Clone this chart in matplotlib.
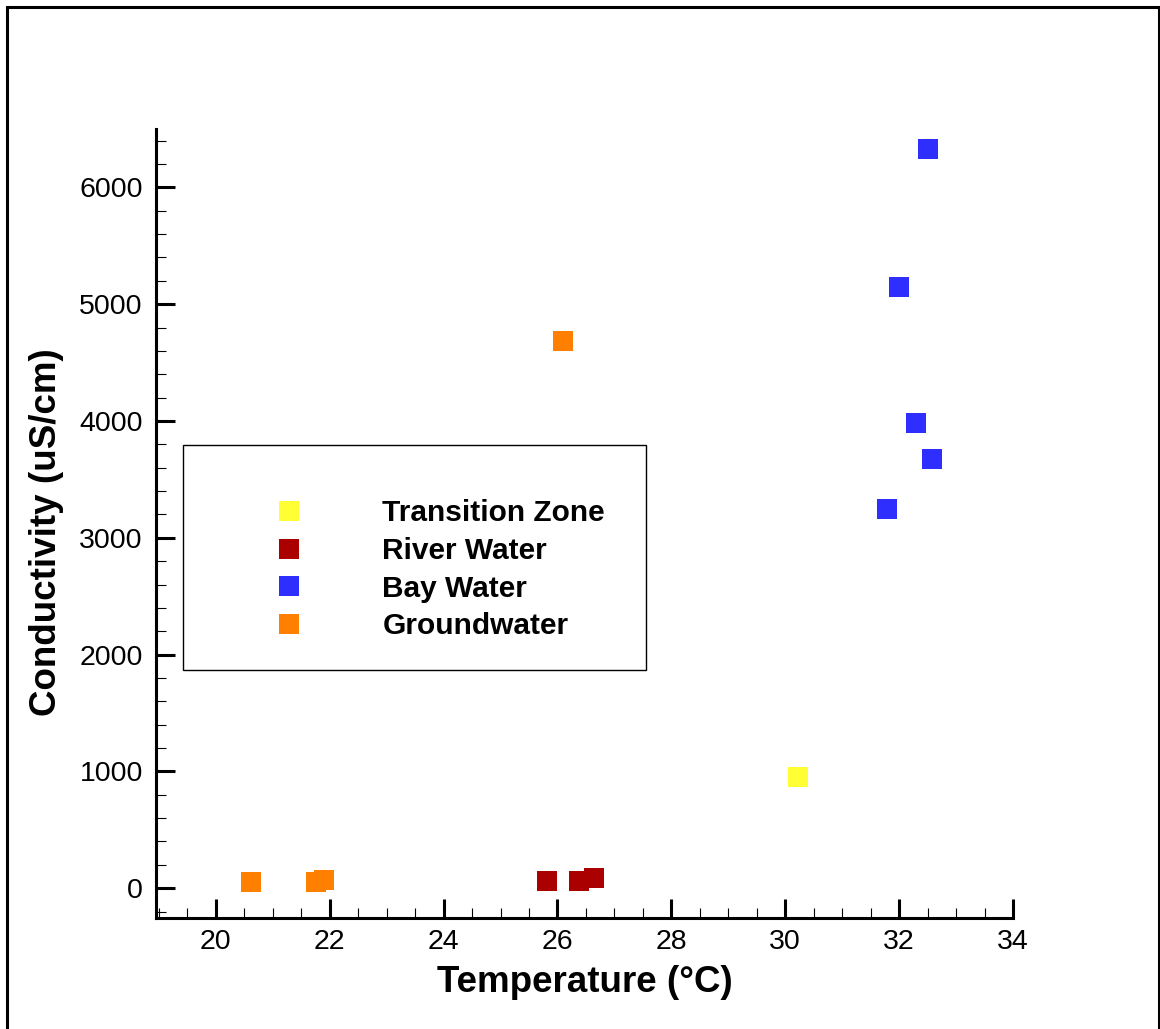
import numpy as np
import matplotlib
matplotlib.use("Agg")
import matplotlib.pyplot as plt
from matplotlib.patches import Rectangle
from matplotlib.ticker import MultipleLocator

plt.rcParams["font.family"] = ["Liberation Sans", "DejaVu Sans"]

# data (temperature degC, conductivity uS/cm)
transition_temp = [30.22]
transition_cond = [954]
river_temp = [25.81, 26.37, 26.65]
river_cond = [66, 66, 85]
bay_temp = [32.50, 31.99, 32.29, 32.57, 31.79]
bay_cond = [6332, 5149, 3984, 3675, 3250]
ground_temp = [20.62, 21.76, 21.90, 26.09]
ground_cond = [51, 57, 69, 4689]

series = [
    (transition_temp, transition_cond, "Transition Zone", "#FFFF33"),
    (river_temp, river_cond, "River Water", "#AA0000"),
    (bay_temp, bay_cond, "Bay Water", "#2E2EFF"),
    (ground_temp, ground_cond, "Groundwater", "#FF8000"),
]

W, H = 1160, 1029
fig = plt.figure(figsize=(W / 100, H / 100), dpi=100)
ax = fig.add_axes([156 / W, 1 - 918 / H, (1013 - 156) / W, (918 - 129) / H])

for temp, cond, label, color in series:
    ax.plot(temp, cond, linestyle="none", marker="s", markersize=15,
            markeredgewidth=0, color=color, label=label, clip_on=False)

ax.set_xlim(18.95, 34.0)
ax.set_ylim(-255, 6500)
ax.xaxis.set_major_locator(MultipleLocator(2))
ax.xaxis.set_minor_locator(MultipleLocator(0.5))
ax.yaxis.set_major_locator(MultipleLocator(1000))
ax.yaxis.set_minor_locator(MultipleLocator(200))

for side in ["top", "right"]:
    ax.spines[side].set_visible(False)
for side in ["left", "bottom"]:
    ax.spines[side].set_linewidth(2.2)

ax.tick_params(which="major", direction="in", length=14, width=2.2,
               labelsize=20.5, colors="black")
ax.tick_params(axis="y", which="major", pad=9.5)
ax.tick_params(axis="x", which="major", pad=8)
ax.tick_params(which="minor", direction="in", length=7, width=0.8)

ax.set_xlabel("Temperature (°C)", fontsize=26.5, fontweight="bold", labelpad=7)
ax.set_ylabel("Conductivity (uS/cm)", fontsize=26.5, fontweight="bold", labelpad=9)
ax.yaxis.set_label_coords(-0.107, 0.489)

# legend box spans a fixed width, content keeps to the left
leg = ax.legend(loc="upper left", bbox_to_anchor=(0.0315, 0.3105, 0.5403, 0.289),
                mode="expand", borderaxespad=0, frameon=True, fancybox=False,
                edgecolor="black", framealpha=1,
                prop={"weight": "bold", "size": 21.5},
                title=" ", title_fontsize=12,
                borderpad=1.0, labelspacing=0.32, handlelength=5.1,
                handletextpad=0.58, numpoints=1)
leg.get_frame().set_linewidth(1.0)

# outer frame around the whole picture
fig.patches.append(Rectangle((6.5 / W, -0.02), (1158.5 - 6.5) / W, 1.02 - 6.5 / H,
                             transform=fig.transFigure, fill=False,
                             edgecolor="black", linewidth=2.2, clip_on=False))

fig.savefig("out.png", dpi=100)
